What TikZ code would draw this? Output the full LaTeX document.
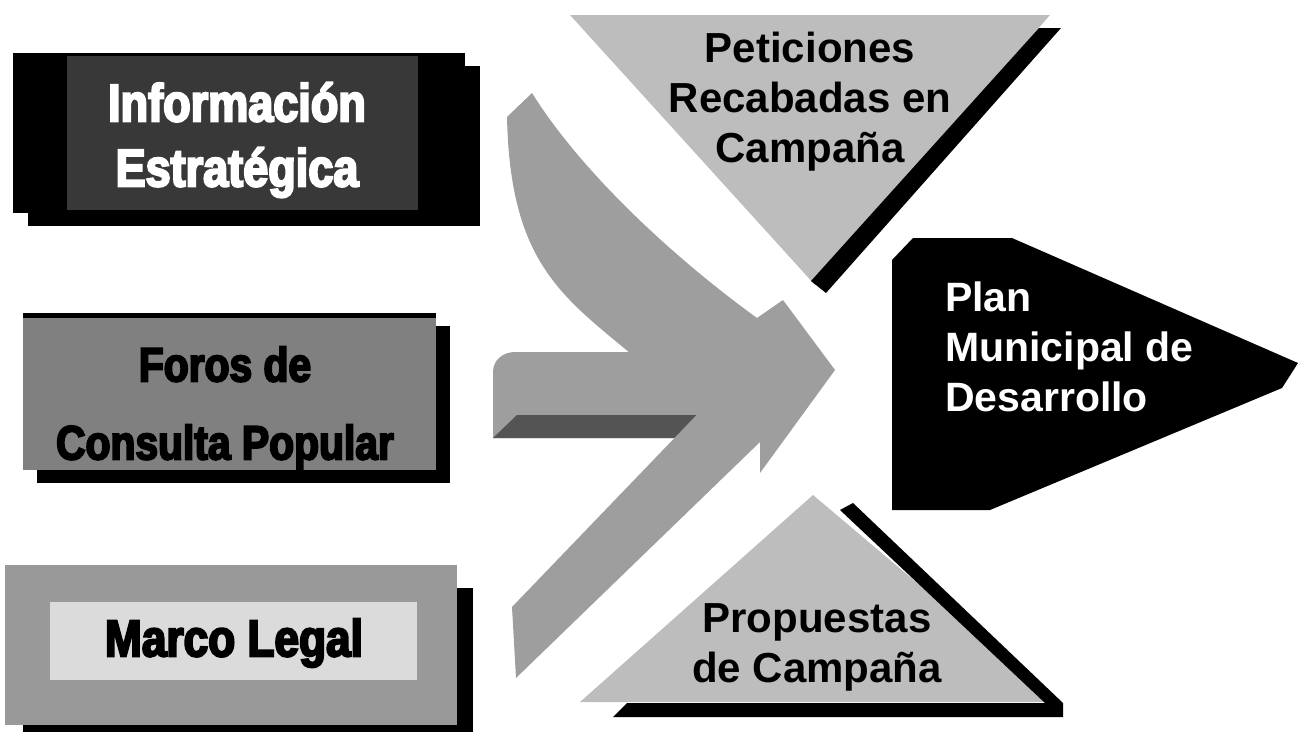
\documentclass[tikz,border=0pt]{standalone}
\usepackage{fontspec}
\setmainfont{Liberation Sans}
\newfontfamily\impactfont{Liberation Sans}[FakeStretch=0.85,FakeBold=4]
\usepackage{xcolor}
\usetikzlibrary{calc}

\definecolor{arrowgray}{gray}{0.62}
\definecolor{arrowdark}{gray}{0.33}
\definecolor{trigray}{gray}{0.74}
\definecolor{forosgray}{gray}{0.5}
\definecolor{marcogray}{gray}{0.6}
\definecolor{marcolight}{gray}{0.86}

\begin{document}
\begin{tikzpicture}[x=1pt,y=-1pt,
    boxtext/.style={align=center,inner sep=0pt},
    tritext/.style={align=center,inner sep=0pt,
      font=\bfseries\fontsize{42}{50}\selectfont},
    plantext/.style={align=left,inner sep=0pt,text=white,
      font=\bfseries\fontsize{41}{50}\selectfont}]
  \useasboundingbox (0,0) rectangle (1298,739);

  % left boxes
  \fill (28,66) rectangle (480,226);
  \fill (13,53) rectangle (465,213);
  \fill[black!78] (67,56) rectangle (418,210);
  \node[boxtext,text=white,font=\impactfont\bfseries\fontsize{53}{65}\selectfont]
    (info) at (237,140) {Información\\Estratégica};

  \fill (37,326) rectangle (450,483);
  \fill[forosgray] (23,313) rectangle (436,470);
  \fill (23,313) rectangle (436,318);
  \node[boxtext,font=\impactfont\bfseries\fontsize{48}{78}\selectfont]
    (foros) at (225,408) {Foros de\\Consulta Popular};

  \fill (23,588) rectangle (473,732);
  \fill[marcogray] (5,565) rectangle (457,725);
  \fill[marcolight] (50,602) rectangle (417,680);
  \node[boxtext,font=\impactfont\bfseries\fontsize{52}{60}\selectfont]
    (marco) at (234,643) {Marco Legal};

  % arrows
  \fill[arrowgray] (507,117) -- (532,93) .. controls (580,170) and (670,255) .. (757,318)
    -- (783,300) -- (835,370) -- (760,473) -- (760,440) -- (700,415) -- (630,353)
    .. controls (560,295) and (510,260) .. (507,117) -- cycle;
  \fill[arrowgray] (493,438) -- (493,372) .. controls (493,360) and (503,352) .. (515,352)
    -- (720,352) -- (720,438) -- cycle;
  \fill[arrowdark] (493,438) -- (517,415) -- (698,415) -- (677,438) -- cycle;
  \fill[arrowgray] (512,607) -- (516,678) -- (760,442) -- (760,400) -- (711,400) -- cycle;

  % triangles
  \fill[trigray] (570,15) -- (1050,15) -- (815,285) -- cycle;
  \fill (1039,28) -- (1061,28) -- (826,293) -- (811,281) -- cycle;
  \node[tritext] (peticiones) at (810,102) {Peticiones\\Recabadas en\\Campaña};

  \fill[trigray] (580,702) -- (813,495) -- (1058,702) -- cycle;
  \fill (840,510) -- (853,503) -- (1063,703) -- (1063,717) -- (613,717) -- (627,703)
    -- (1045,703) -- cycle;
  \node[tritext] (propuestas) at (817,647) {Propuestas\\de Campaña};

  % plan
  \fill (892,260) -- (913,238) -- (1012,238) -- (1298,363) -- (1282,388) -- (990,510)
    -- (892,510) -- cycle;
  \node[plantext,anchor=north west] (plan) at (945,282) {Plan\\Municipal de\\Desarrollo};
\end{tikzpicture}
\end{document}
